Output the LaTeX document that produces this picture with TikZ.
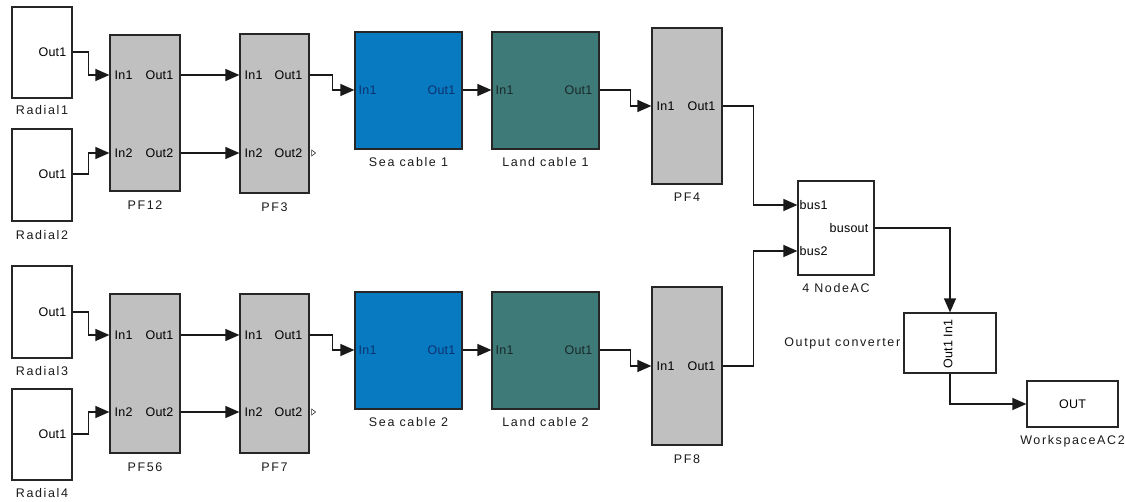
\documentclass[tikz,border=0pt]{standalone}
\usepackage{fontspec}
\setmainfont{Liberation Sans}
\newfontfamily\portfont{Liberation Sans}[LetterSpace=2]
\newfontfamily\namefont{Liberation Sans}[LetterSpace=13]
\usetikzlibrary{arrows.meta}
\definecolor{pfgray}{RGB}{192,192,192}
\definecolor{seablue}{RGB}{8,122,194}
\definecolor{landteal}{RGB}{62,122,120}
\definecolor{seatext}{RGB}{12,50,110}
\definecolor{landtext}{RGB}{25,40,40}

% block: name, x1, y1, x2, y2, fill
\newcommand\mkblock[6]{%
  \node[blk, fill=#6, minimum width={#4-#2}, minimum height={#5-#3}]
    (#1) at ({(#2+#4)/2},{(#3+#5)/2}) {};}

\begin{document}
\begin{tikzpicture}[x=1pt,y=-1pt,
  blk/.style={draw=black!85, line width=1.2pt, inner sep=0pt},
  sig/.style={draw=black!90, line width=1.3pt, -{Triangle[length=14pt,width=12pt]}},
  pin/.style={anchor=west, inner sep=0pt, font=\portfont\fontsize{12.5}{14}\selectfont},
  pout/.style={anchor=east, inner sep=0pt, font=\portfont\fontsize{12.5}{14}\selectfont},
  bname/.style={inner sep=0pt, font=\namefont\fontsize{12.5}{14}\selectfont, text=black!90},
  openport/.style={draw=black!80, line width=0.6pt}]
\useasboundingbox (0,0) rectangle (1125,502);

% ---------- upper branch ----------
\mkblock{R1}{12}{7}{72}{98}{white}
\mkblock{R2}{12}{129}{72}{221}{white}
\mkblock{PF12}{110}{35}{180}{191}{pfgray}
\mkblock{PF3}{240}{34}{309}{193}{pfgray}
\mkblock{SC1}{355}{32}{462}{149}{seablue}
\mkblock{LC1}{492}{32}{599}{149}{landteal}
\mkblock{PF4}{652}{28}{722}{184}{pfgray}

% ---------- lower branch ----------
\mkblock{R3}{12}{266}{72}{358}{white}
\mkblock{R4}{12}{389}{72}{480}{white}
\mkblock{PF56}{110}{294}{180}{453}{pfgray}
\mkblock{PF7}{240}{294}{309}{453}{pfgray}
\mkblock{SC2}{355}{292}{462}{409}{seablue}
\mkblock{LC2}{492}{292}{599}{409}{landteal}
\mkblock{PF8}{652}{287}{722}{445}{pfgray}

% ---------- node, converter and workspace ----------
\mkblock{NAC}{798}{181}{874}{275}{white}
\mkblock{OC}{904}{313}{996}{373}{white}
\mkblock{OUT}{1027}{381}{1118}{427}{white}

% ---------- port coordinates ----------
\coordinate (r1o) at (R1.east |- 0,52);
\coordinate (r2o) at (R2.east |- 0,174);
\coordinate (r3o) at (R3.east |- 0,312);
\coordinate (r4o) at (R4.east |- 0,434);
\coordinate (pf12i1) at (PF12.west |- 0,75);
\coordinate (pf12i2) at (PF12.west |- 0,153);
\coordinate (pf12o1) at (PF12.east |- 0,75);
\coordinate (pf12o2) at (PF12.east |- 0,153);
\coordinate (pf3i1) at (PF3.west |- 0,75);
\coordinate (pf3i2) at (PF3.west |- 0,153);
\coordinate (pf3o1) at (PF3.east |- 0,75);
\coordinate (pf3o2) at (PF3.east |- 0,153);
\coordinate (sc1i) at (SC1.west |- 0,90);
\coordinate (sc1o) at (SC1.east |- 0,90);
\coordinate (lc1i) at (LC1.west |- 0,90);
\coordinate (lc1o) at (LC1.east |- 0,90);
\coordinate (pf4i) at (PF4.west |- 0,106);
\coordinate (pf4o) at (PF4.east |- 0,106);
\coordinate (pf56i1) at (PF56.west |- 0,335);
\coordinate (pf56i2) at (PF56.west |- 0,412);
\coordinate (pf56o1) at (PF56.east |- 0,335);
\coordinate (pf56o2) at (PF56.east |- 0,412);
\coordinate (pf7i1) at (PF7.west |- 0,335);
\coordinate (pf7i2) at (PF7.west |- 0,412);
\coordinate (pf7o1) at (PF7.east |- 0,335);
\coordinate (pf7o2) at (PF7.east |- 0,412);
\coordinate (sc2i) at (SC2.west |- 0,350);
\coordinate (sc2o) at (SC2.east |- 0,350);
\coordinate (lc2i) at (LC2.west |- 0,350);
\coordinate (lc2o) at (LC2.east |- 0,350);
\coordinate (pf8i) at (PF8.west |- 0,366);
\coordinate (pf8o) at (PF8.east |- 0,366);
\coordinate (bus1) at (NAC.west |- 0,205);
\coordinate (bus2) at (NAC.west |- 0,251);
\coordinate (busout) at (NAC.east |- 0,228);

% ---------- port labels ----------
\foreach \r in {r1o,r2o,r3o,r4o}
  \node[pout] at ([xshift=-6pt]\r) {Out1};
\foreach \b in {pf12,pf3,pf56,pf7} {
  \node[pin] at ([xshift=5pt]\b i1) {In1};
  \node[pin] at ([xshift=5pt]\b i2) {In2};
  \node[pout] at ([xshift=-7pt]\b o1) {Out1};
  \node[pout] at ([xshift=-7pt]\b o2) {Out2};
}
\foreach \b in {pf4,pf8} {
  \node[pin] at ([xshift=5pt]\b i) {In1};
  \node[pout] at ([xshift=-7pt]\b o) {Out1};
}
\foreach \b in {sc1,sc2} {
  \node[pin, text=seatext] at ([xshift=4pt]\b i) {In1};
  \node[pout, text=seatext] at ([xshift=-7pt]\b o) {Out1};
}
\foreach \b in {lc1,lc2} {
  \node[pin, text=landtext] at ([xshift=4pt]\b i) {In1};
  \node[pout, text=landtext] at ([xshift=-7pt]\b o) {Out1};
}
\node[pin] (b1lbl) at ([xshift=2pt]bus1) {bus1};
\node[pin] (b2lbl) at ([xshift=2pt]bus2) {bus2};
\node[pout] (bolbl) at ([xshift=-6pt]busout) {busout};
\node[inner sep=0pt, rotate=90, font=\portfont\fontsize{12.5}{14}\selectfont]
  (oclbl) at ([xshift=-2pt,yshift=-1pt]OC.center) {Out1 In1};
\node[inner sep=0pt, font=\portfont\fontsize{12.5}{14}\selectfont] (outlbl) at (OUT.center) {OUT};

% unconnected outputs
\foreach \p in {pf3o2,pf7o2}
  \draw[openport] ([xshift=2pt,yshift=-3pt]\p) -- ([xshift=6pt]\p) -- ([xshift=2pt,yshift=3pt]\p) -- cycle;

% ---------- block names ----------
\node[bname] at (R1.south |- 0,110) {Radial1};
\node[bname] at (R2.south |- 0,235) {Radial2};
\node[bname] at (R3.south |- 0,371) {Radial3};
\node[bname] at (R4.south |- 0,493) {Radial4};
\node[bname] at (PF12.south |- 0,205) {PF12};
\node[bname] at (PF3.south |- 0,207) {PF3};
\node[bname] at (SC1.south |- 0,162) {Sea cable 1};
\node[bname] at (LC1.south |- 0,162) {Land cable 1};
\node[bname] at (PF4.south |- 0,197) {PF4};
\node[bname] at (PF56.south |- 0,467) {PF56};
\node[bname] at (PF7.south |- 0,467) {PF7};
\node[bname] at (SC2.south |- 0,422) {Sea cable 2};
\node[bname] at (LC2.south |- 0,422) {Land cable 2};
\node[bname] at (PF8.south |- 0,459) {PF8};
\node[bname] at (NAC.south |- 0,288) {4 NodeAC};
\node[bname, anchor=east] at ([xshift=-3pt]OC.west |- 0,343) {Output converter};
\node[bname] at (OUT.south |- 0,441) {WorkspaceAC2};

% ---------- signal lines ----------
\draw[sig] (r1o) -- ++(16,0) |- (pf12i1);
\draw[sig] (r2o) -- ++(16,0) |- (pf12i2);
\draw[sig] (pf12o1) -- (pf3i1);
\draw[sig] (pf12o2) -- (pf3i2);
\draw[sig] (pf3o1) -- ++(23,0) |- (sc1i);
\draw[sig] (sc1o) -- (lc1i);
\draw[sig] (lc1o) -- ++(31,0) |- (pf4i);
\draw[sig] (pf4o) -- ++(31,0) |- (bus1);

\draw[sig] (r3o) -- ++(16,0) |- (pf56i1);
\draw[sig] (r4o) -- ++(16,0) |- (pf56i2);
\draw[sig] (pf56o1) -- (pf7i1);
\draw[sig] (pf56o2) -- (pf7i2);
\draw[sig] (pf7o1) -- ++(23,0) |- (sc2i);
\draw[sig] (sc2o) -- (lc2i);
\draw[sig] (lc2o) -- ++(31,0) |- (pf8i);
\draw[sig] (pf8o) -- ++(31,0) |- (bus2);

\draw[sig] (busout) -| (OC.north);
\draw[sig] (OC.south) |- (OUT.west);
\end{tikzpicture}
\end{document}
